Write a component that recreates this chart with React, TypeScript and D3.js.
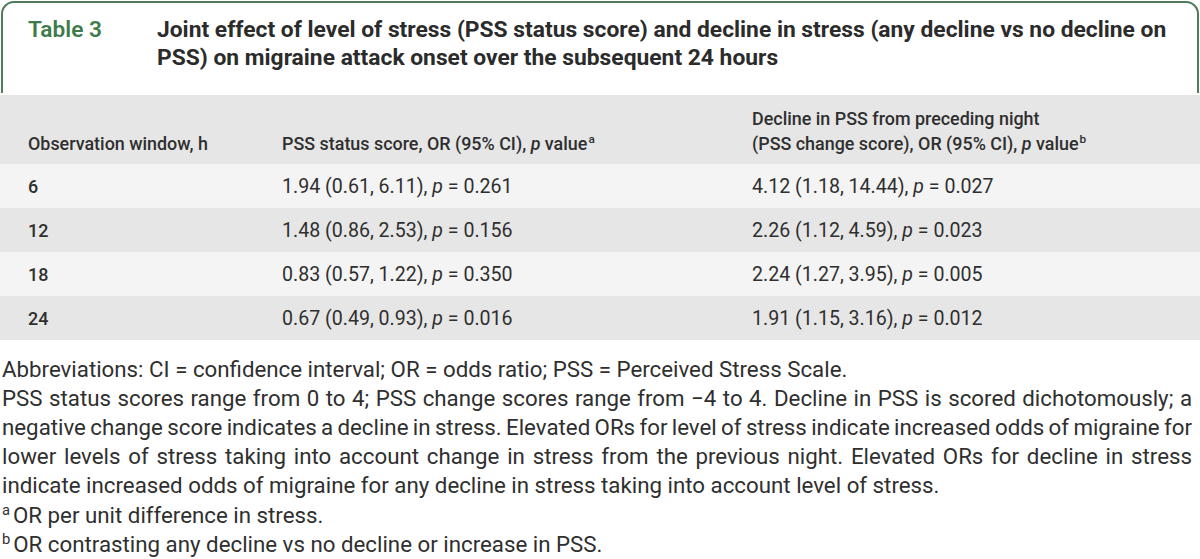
import React, { useEffect, useRef } from "react";
import * as d3 from "d3";

// ---- content ----
const tableLabel = "Table 3";
const titleLines = [
  "Joint effect of level of stress (PSS status score) and decline in stress (any decline vs no decline on",
  "PSS) on migraine attack onset over the subsequent 24 hours",
];
const headerWindow = "Observation window, h";
const headerPss = "PSS status score, OR (95% CI), ";
const headerDecline1 = "Decline in PSS from preceding night";
const headerDecline2 = "(PSS change score), OR (95% CI), ";

const windows = ["6", "12", "18", "24"];
const pssOR = [1.94, 1.48, 0.83, 0.67];
const pssLow = [0.61, 0.86, 0.57, 0.49];
const pssHigh = [6.11, 2.53, 1.22, 0.93];
const pssP = [0.261, 0.156, 0.35, 0.016];
const declineOR = [4.12, 2.26, 2.24, 1.91];
const declineLow = [1.18, 1.12, 1.27, 1.15];
const declineHigh = [14.44, 4.59, 3.95, 3.16];
const declineP = [0.027, 0.023, 0.005, 0.012];

const footLines = [
  { text: "Abbreviations: CI = confidence interval; OR = odds ratio; PSS = Perceived Stress Scale.", justify: false, sup: "" },
  { text: "PSS status scores range from 0 to 4; PSS change scores range from \u22124 to 4. Decline in PSS is scored dichotomously; a", justify: true, sup: "" },
  { text: "negative change score indicates a decline in stress. Elevated ORs for level of stress indicate increased odds of migraine for", justify: true, sup: "" },
  { text: "lower levels of stress taking into account change in stress from the previous night. Elevated ORs for decline in stress", justify: true, sup: "" },
  { text: "indicate increased odds of migraine for any decline in stress taking into account level of stress.", justify: false, sup: "" },
  { text: "OR per unit difference in stress.", justify: false, sup: "a" },
  { text: "OR contrasting any decline vs no decline or increase in PSS.", justify: false, sup: "b" },
];

const FONT = "Roboto, 'Noto Sans', 'DejaVu Sans', sans-serif";

export default function App() {
  const ref = useRef<SVGSVGElement>(null);

  useEffect(() => {
    const draw = () => {
      const svg = d3.select(ref.current as SVGSVGElement);
      svg.selectAll("*").remove();

      const measure = (text: string, size: number, weight: number | string) => {
        const t = svg
          .append("text")
          .attr("font-family", FONT)
          .attr("font-size", size)
          .attr("font-weight", weight)
          .text(text);
        const w = (t.node() as SVGTextElement).getComputedTextLength();
        t.remove();
        return w;
      };
      const fit = (text: string, weight: number | string, target: number) =>
        (20 * target) / measure(text, 20, weight);

      const titleSize = fit(titleLines[0], 700, 1010);
      const labelSize = fit(tableLabel, 600, 74);
      const headSize = fit(headerWindow, 500, 180);
      const cellSize = fit("1.94 (0.61, 6.11), p = 0.261", 400, 231);
      const footSize = fit(footLines[0].text, 400, 846);

      // background
      svg.append("rect").attr("width", 1200).attr("height", 559).attr("fill", "#ffffff");

      // green frame
      const green = "#4e7b58";
      svg
        .append("path")
        .attr("d", "M2,93 V14 A12,12 0 0 1 14,2 H1186 A12,12 0 0 1 1198,14 V93")
        .attr("fill", "none")
        .attr("stroke", green)
        .attr("stroke-width", 2);

      svg
        .append("text")
        .attr("x", 28)
        .attr("y", 37)
        .attr("font-family", FONT)
        .attr("font-size", labelSize)
        .attr("font-weight", 600)
        .attr("fill", "#3f7a4c")
        .text(tableLabel);

      titleLines.forEach((line, i) => {
        svg
          .append("text")
          .attr("x", 157)
          .attr("y", 37 + i * 28)
          .attr("font-family", FONT)
          .attr("font-size", titleSize)
          .attr("font-weight", 700)
          .attr("fill", "#2b2b2b")
          .text(line);
      });

      // table bands
      const headTop = 95;
      const y = d3.scaleBand<string>().domain(windows).range([164, 340]).padding(0);
      const colX = d3
        .scaleOrdinal<string, number>()
        .domain(["window", "pss", "decline"])
        .range([28, 282, 752]);

      svg.append("rect").attr("x", 0).attr("y", headTop).attr("width", 1200).attr("height", 164 - headTop).attr("fill", "#e6e6e6");
      svg
        .selectAll("rect.row")
        .data(windows)
        .join("rect")
        .attr("class", "row")
        .attr("x", 0)
        .attr("y", (d) => y(d) as number)
        .attr("width", 1200)
        .attr("height", y.bandwidth())
        .attr("fill", (_d, i) => (i % 2 === 0 ? "#f4f4f4" : "#e6e6e6"));

      const textColor = "#2f2f2f";
      const headBase = 150;
      const addHead = (x: number, yy: number, main: string, italic?: string, sup?: string) => {
        const t = svg
          .append("text")
          .attr("x", x)
          .attr("y", yy)
          .attr("font-family", FONT)
          .attr("font-size", headSize)
          .attr("font-weight", 500)
          .attr("fill", textColor);
        t.append("tspan").text(main);
        if (italic) t.append("tspan").attr("font-style", "italic").text(italic);
        if (italic) t.append("tspan").text(" value");
        if (sup) t.append("tspan").attr("font-size", headSize * 0.66).attr("dy", -7).attr("dx", 1).text(sup);
      };
      addHead(colX("window"), headBase, headerWindow);
      addHead(colX("pss"), headBase, headerPss, "p", "a");
      addHead(colX("decline"), headBase - 25, headerDecline1);
      addHead(colX("decline"), headBase, headerDecline2, "p", "b");

      const rowBase = (d: string) => (y(d) as number) + y.bandwidth() / 2 + 6.5;

      svg
        .selectAll("text.win")
        .data(windows)
        .join("text")
        .attr("class", "win")
        .attr("x", colX("window"))
        .attr("y", (d) => rowBase(d))
        .attr("font-family", FONT)
        .attr("font-size", headSize)
        .attr("font-weight", 500)
        .attr("fill", textColor)
        .text((d) => d);

      const cell = (
        key: string,
        or: number[],
        lo: number[],
        hi: number[],
        p: number[]
      ) => {
        windows.forEach((w, i) => {
          const t = svg
            .append("text")
            .attr("x", colX(key))
            .attr("y", rowBase(w))
            .attr("font-family", FONT)
            .attr("font-size", cellSize)
            .attr("font-weight", 400)
            .attr("fill", textColor);
          t.append("tspan").text(`${or[i].toFixed(2)} (${lo[i].toFixed(2)}, ${hi[i].toFixed(2)}), `);
          t.append("tspan").attr("font-style", "italic").text("p");
          t.append("tspan").text(` = ${p[i].toFixed(3)}`);
        });
      };
      cell("pss", pssOR, pssLow, pssHigh, pssP);
      cell("decline", declineOR, declineLow, declineHigh, declineP);

      // footnotes
      const footX = 2;
      const footRight = 1192;
      const footBase = 377;
      const footStep = 29.1;
      footLines.forEach((fl, i) => {
        const yy = footBase + i * footStep;
        const t = svg
          .append("text")
          .attr("y", yy)
          .attr("font-family", FONT)
          .attr("font-size", footSize)
          .attr("font-weight", 400)
          .attr("fill", textColor);
        if (fl.justify) {
          const words = fl.text.split(" ");
          const widths = words.map((w) => measure(w, footSize, 400));
          const total = d3.sum(widths);
          const gap = (footRight - footX - total) / (words.length - 1);
          let x = footX;
          words.forEach((w, k) => {
            t.append("tspan").attr("x", x).text(w);
            x += widths[k] + gap;
          });
        } else if (fl.sup) {
          t.attr("x", footX);
          t.append("tspan").attr("font-size", footSize * 0.66).attr("dy", -8).text(fl.sup);
          t.append("tspan").attr("dy", 8).attr("dx", 3).text(fl.text);
        } else {
          t.attr("x", footX).text(fl.text);
        }
      });
    };

    draw();
    if ((document as any).fonts && (document as any).fonts.ready) {
      (document as any).fonts.ready.then(draw);
    }
  }, []);

  return (
    <svg
      ref={ref}
      width={1200}
      height={559}
      style={{ position: "absolute", left: 0, top: 0, display: "block" }}
    />
  );
}
